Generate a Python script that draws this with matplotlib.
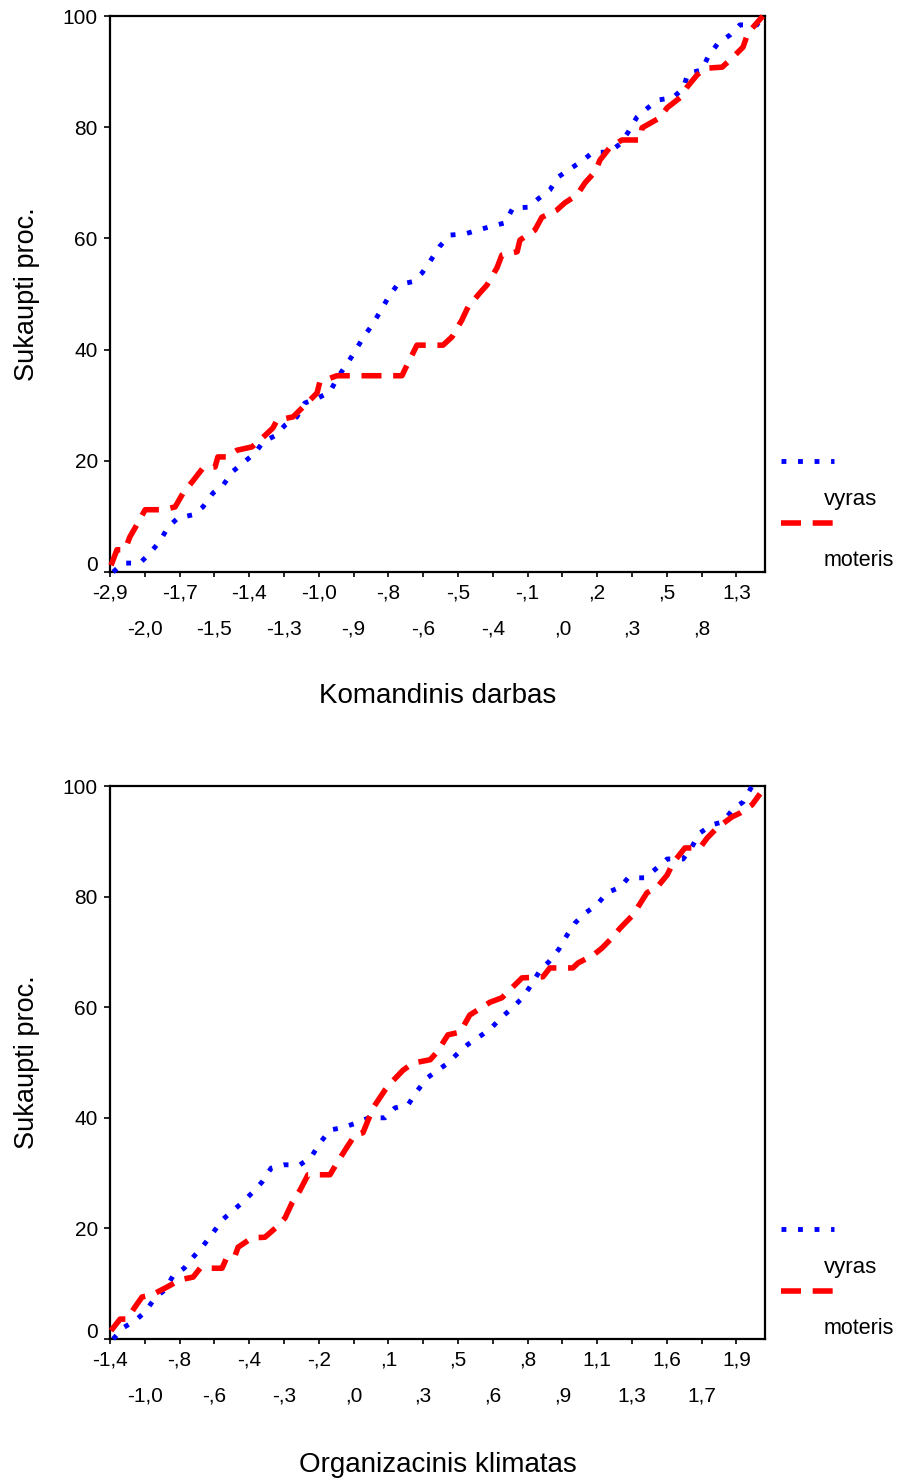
import matplotlib
matplotlib.use('Agg')
import matplotlib.pyplot as plt
from matplotlib.lines import Line2D
import matplotlib.transforms as mtransforms

plt.rcParams['font.family'] = ['Liberation Sans', 'DejaVu Sans']

# x reikšmės - kategorijų padėtys (vienetas = vienas ašies padalos žingsnis)
komand_labels = ['-2,9', '-2,0', '-1,7', '-1,5', '-1,4', '-1,3', '-1,0', '-,9', '-,8', '-,6',
                 '-,5', '-,4', '-,1', ',0', ',2', ',3', ',5', ',8', '1,3']
klimat_labels = ['-1,4', '-1,0', '-,8', '-,6', '-,4', '-,3', '-,2', ',0', ',1', ',3',
                 ',5', ',6', ',8', ',9', '1,1', '1,3', '1,6', '1,7', '1,9']

# Komandinis darbas - vyrai
komand_vyras_x = [0.09, 0.37, 0.86, 1.15, 1.44, 1.67, 1.95, 2.39, 2.67, 2.96, 3.25, 3.51, 3.82,
                  4.17, 4.40, 4.74, 5.03, 5.37, 5.60, 5.98, 6.32, 6.55, 6.81, 7.04, 7.27, 7.53,
                  7.76, 7.99, 8.25, 8.68, 8.97, 9.20, 9.48, 9.77, 10.20, 10.57, 10.92, 11.35,
                  11.58, 12.01, 12.30, 12.64, 12.87, 13.22, 13.56, 13.88, 14.34, 14.66, 14.89,
                  15.14, 15.46, 15.75, 16.18, 16.47, 16.61, 17.01, 17.18, 17.47, 17.82, 18.10,
                  18.59, 18.76]
komand_vyras_y = [0.0, 1.6, 1.6, 3.4, 5.6, 8.1, 9.7, 10.3, 11.7, 14.2, 15.6, 18.0, 19.6,
                  21.4, 23.4, 24.5, 26.4, 27.9, 30.4, 31.3, 32.4, 35.1, 37.4, 39.7, 42.1, 44.4,
                  46.8, 49.3, 51.6, 52.2, 53.8, 55.9, 58.6, 60.6, 60.8, 61.5, 62.1, 62.8,
                  65.5, 65.6, 67.1, 68.7, 71.0, 72.5, 73.9, 75.5, 75.5, 77.0, 79.1,
                  81.8, 83.5, 84.9, 85.3, 87.0, 89.7, 90.3, 92.6, 95.1, 96.6, 98.4,
                  98.4, 100.0]

# Komandinis darbas - moterys
komand_moteris_x = [0.03, 0.20, 0.43, 0.57, 0.80, 1.01, 1.52, 1.87, 2.10, 2.36, 2.67, 3.02, 3.10,
                    3.36, 3.65, 4.08, 4.31, 4.68, 4.80, 5.26, 5.60, 5.95, 6.03, 6.52, 8.39, 8.48,
                    8.82, 9.57, 9.83, 10.11, 10.29, 10.63, 10.83, 11.12, 11.26, 11.70, 11.78,
                    12.21, 12.41, 12.84, 13.07, 13.42, 13.65, 13.94, 14.08, 14.37, 14.71, 15.23,
                    15.29, 15.80, 16.01, 16.38, 16.58, 16.87, 17.10, 17.59, 17.87, 18.19, 18.33,
                    18.76]
komand_moteris_y = [1.2, 4.0, 4.0, 6.3, 8.8, 11.2, 11.2, 11.7, 14.2, 16.2, 18.7, 18.9, 20.7,
                    20.7, 21.9, 22.5, 23.7, 25.9, 27.3, 27.9, 30.0, 32.2, 34.2, 35.3, 35.3, 36.5,
                    40.8, 40.8, 42.3, 45.3, 47.7, 50.2, 51.6, 54.7, 57.0, 57.6, 59.7,
                    61.5, 63.8, 65.1, 66.4, 67.8, 70.0, 72.0, 74.1, 76.4, 77.7, 77.7,
                    79.9, 81.7, 83.5, 85.3, 87.2, 89.4, 90.6, 90.8, 92.4, 94.4, 96.9,
                    100.0]

# Organizacinis klimatas - vyrai
klimat_vyras_x = [0.09, 0.37, 0.72, 1.01, 1.29, 1.58, 1.81, 2.13, 2.39, 2.67, 2.96, 3.22, 3.51,
                  3.79, 4.11, 4.37, 4.63, 5.00, 5.46, 5.78, 6.03, 6.32, 6.67, 7.10, 7.44, 7.90,
                  8.19, 8.56, 8.82, 9.11, 9.40, 9.71, 10.00, 10.29, 10.69, 10.98, 11.26, 11.58,
                  11.87, 12.10, 12.36, 12.61, 12.90, 13.13, 13.36, 13.65, 13.99, 14.28, 14.66,
                  14.89, 15.37, 15.72, 16.01, 16.47, 16.72, 16.95, 17.30, 17.61, 17.90, 18.19,
                  18.45]
klimat_vyras_y = [0.0, 2.0, 3.3, 4.9, 7.4, 8.9, 11.4, 12.8, 14.8, 16.8, 19.2, 21.5, 23.1,
                  24.6, 26.6, 28.4, 30.9, 31.5, 31.5, 32.9, 35.4, 37.8, 38.2, 39.1, 40.0, 40.0,
                  41.8, 42.3, 44.8, 47.2, 48.5, 49.9, 51.7, 53.3, 55.0, 56.4, 58.2, 60.0,
                  61.8, 64.0, 66.7, 68.2, 70.5, 73.0, 75.2, 77.0, 78.5, 80.7, 81.7,
                  83.4, 83.4, 85.2, 86.8, 86.8, 89.0, 91.5, 93.0, 93.5, 95.8, 97.1,
                  100.0]

# Organizacinis klimatas - moterys
klimat_moteris_x = [0.03, 0.29, 0.49, 0.72, 0.92, 1.21, 1.64, 2.01, 2.39, 2.59, 3.22, 3.36, 3.59,
                    3.68, 4.08, 4.45, 4.80, 5.03, 5.23, 5.46, 5.69, 6.32, 6.52, 6.81, 7.04, 7.27,
                    7.56, 7.90, 8.10, 8.42, 8.71, 9.20, 9.40, 9.71, 10.06, 10.34, 10.57, 10.92,
                    11.26, 11.55, 11.84, 12.44, 12.64, 13.30, 13.45, 13.88, 14.14, 14.45, 14.66,
                    15.00, 15.17, 15.43, 15.72, 16.01, 16.18, 16.52, 16.95, 17.16, 17.44, 17.87,
                    18.10, 18.45, 18.68]
klimat_moteris_y = [1.5, 3.6, 3.6, 5.8, 7.6, 8.0, 9.4, 10.7, 11.2, 12.8, 12.8, 14.8, 15.0,
                    16.6, 18.3, 18.4, 20.3, 21.9, 24.6, 26.9, 29.7, 29.7, 31.8, 34.7, 36.9, 37.3,
                    41.8, 45.0, 46.5, 48.6, 49.9, 50.5, 51.9, 55.0, 55.5, 58.6, 59.5, 60.9,
                    61.7, 63.5, 65.3, 65.5, 67.1, 67.1, 68.0, 69.4, 70.7, 72.7, 74.3,
                    76.5, 78.1, 80.7, 81.7, 83.9, 86.1, 88.8, 88.8, 90.6, 92.4, 94.4,
                    95.1, 96.6, 98.6]

W, H = 897, 1479
BLUE = '#0000ff'
RED = '#ff0000'
blue_style = dict(color=BLUE, lw=3.5, linestyle=(0, (1, 2.4)), dash_capstyle='butt')
red_style = dict(color=RED, lw=4.0, linestyle=(0, (3.6, 2.1)), dash_capstyle='butt')


def fx(px):
    return px / W


def fy(py):
    return 1 - py / H


def draw_panel(ax, labels, vx, vy, mx, my, title, title_y):
    ax.plot(vx, vy, clip_on=False, zorder=3, **blue_style)
    ax.plot(mx, my, clip_on=False, zorder=3, **red_style)
    ax.set_xlim(0, 655 / 34.8)
    ax.set_ylim(0, 100)
    # kas antra etiketė - antroje eilutėje
    ax.set_xticks(range(0, len(labels), 2))
    ax.set_xticklabels(labels[0::2])
    ax.set_xticks(range(1, len(labels), 2), minor=True)
    ax.set_xticklabels(labels[1::2], minor=True)
    ax.tick_params(axis='x', which='both', direction='out', length=3.6, width=1.2,
                   labelsize=15, colors='black')
    ax.tick_params(axis='x', which='major', pad=4.5)
    ax.tick_params(axis='x', which='minor', pad=30.5)
    ax.set_yticks([0, 20, 40, 60, 80, 100])
    ax.tick_params(axis='y', direction='out', length=4.3, width=1.2, labelsize=15, pad=4.5)
    # "0" pakeltas kaip SPSS išvestyje
    lab0 = ax.get_yticklabels()[0]
    lab0.set_transform(lab0.get_transform() + mtransforms.ScaledTranslation(0, 9 / 100, ax.figure.dpi_scale_trans))
    for sp in ax.spines.values():
        sp.set_linewidth(1.6)
        sp.set_color('black')
    ax.set_ylabel('Sukaupti proc.', fontsize=19.5, va='center')
    ax.yaxis.set_label_coords(-0.127, 0.5)
    ax.set_xlabel(title, fontsize=20, va='center')
    ax.xaxis.set_label_coords(0.5, title_y)


def draw_legend(fig, y_blue):
    fig.add_artist(Line2D([fx(781), fx(834)], [fy(y_blue), fy(y_blue)],
                          transform=fig.transFigure, **blue_style))
    fig.text(fx(824), fy(y_blue + 39), 'vyras', fontsize=16, va='center', ha='left')
    fig.add_artist(Line2D([fx(781), fx(834)], [fy(y_blue + 62), fy(y_blue + 62)],
                          transform=fig.transFigure, **red_style))
    fig.text(fx(824), fy(y_blue + 99), 'moteris', fontsize=15.5, va='center', ha='left')


fig = plt.figure(figsize=(W / 100, H / 100), dpi=100)
ax1 = fig.add_axes([fx(110), fy(572), fx(655), 556 / H])
ax2 = fig.add_axes([fx(110), fy(1339), fx(655), 553 / H])

draw_panel(ax1, komand_labels, komand_vyras_x, komand_vyras_y,
           komand_moteris_x, komand_moteris_y, 'Komandinis darbas', -0.223)
draw_panel(ax2, klimat_labels, klimat_vyras_x, klimat_vyras_y,
           klimat_moteris_x, klimat_moteris_y, 'Organizacinis klimatas', -0.228)

draw_legend(fig, 461)
draw_legend(fig, 1229)

fig.savefig('out.png', dpi=100)
